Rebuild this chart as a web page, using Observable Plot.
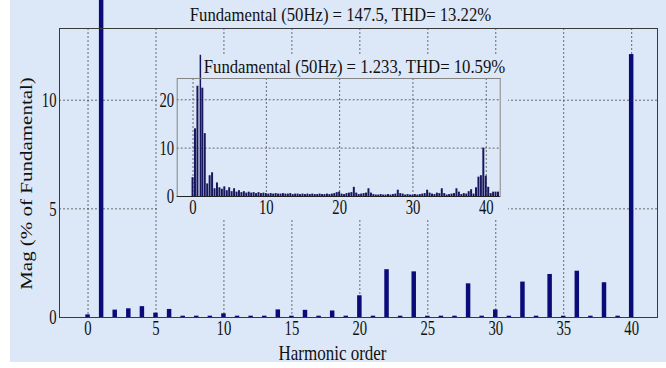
<!DOCTYPE html>
<html>
<head>
<meta charset="utf-8">
<script src="https://cdn.jsdelivr.net/npm/d3@7"></script>
<script src="https://cdn.jsdelivr.net/npm/@observablehq/plot@0.6"></script>
<style>
  html, body { margin: 0; padding: 0; background: #fff; }
  #figure { position: relative; width: 666px; height: 368px; overflow: hidden; background: #fff; }
  #panel { position: absolute; left: 10px; top: 0; width: 656px; height: 362px; background: #dce8f8; }
  #main, #inset { position: absolute; }
  #main { left: 0; top: 0; }
  #inset { left: 157px; top: 54px; }
  #figure svg { overflow: visible; }
</style>
</head>
<body>
<div id="figure">
  <div id="panel"></div>
  <div id="main"></div>
  <div id="inset"></div>
</div>
<script>
// ---- Main spectrum: magnitude of each harmonic, % of fundamental ----
const harmonicOrder = d3.range(0, 41);
const magPercent = [
  0.12, 100, 0.34, 0.40, 0.50, 0.20, 0.37, 0.06, 0.06, 0.06,
  0.17, 0.06, 0.06, 0.06, 0.35, 0.06, 0.33, 0.06, 0.30, 0.06,
  1.00, 0.06, 2.20, 0.06, 2.10, 0.06, 0.06, 0.06, 1.55, 0.06,
  0.35, 0.06, 1.63, 0.06, 1.98, 0.06, 2.13, 0.06, 1.60, 0.06,
  12.10
];
const mainXTicks = [0, 5, 10, 15, 20, 25, 30, 35, 40];
const mainYTicks = [0, 5, 10];
const mainFundamental = 147.5;
const mainTHD = 13.22;

// ---- Inset spectrum: finer bins (3 per harmonic) ----
const binsPerHarmonic = 3;
const insetMag = [
  3.9, 14.0, 22.8, 29.2, 22.4, 13.0, 2.6, 4.3, 4.9, 1.6, 2.8, 1.8, 1.5, 2.0, 1.2,
  1.8, 1.0, 1.6, 0.9, 1.2, 0.8, 1.0, 0.7, 0.9, 0.7, 0.8, 0.6, 0.8, 0.6, 0.7,
  0.6, 0.5, 0.6, 0.5, 0.6, 0.5, 0.5, 0.6, 0.5, 0.5, 0.6, 0.4, 0.5, 0.5, 0.4,
  0.5, 0.4, 0.5, 0.4, 0.5, 0.4, 0.4, 0.5, 0.4, 0.4, 0.5, 0.4, 0.5, 0.6, 0.8,
  0.9, 0.5, 0.4, 0.6, 0.7, 0.8, 1.9, 0.7, 0.4, 0.5, 0.6, 0.7, 1.6, 0.7, 0.4,
  0.3, 0.3, 0.4, 0.3, 0.3, 0.4, 0.3, 0.4, 0.5, 1.3, 0.6, 0.5, 0.3, 0.4, 0.3,
  0.3, 0.4, 0.3, 0.4, 0.5, 0.6, 1.3, 0.7, 0.5, 0.4, 0.7, 0.6, 1.6, 0.6, 0.3,
  0.4, 0.5, 0.6, 1.6, 0.9, 0.4, 0.6, 0.5, 1.0, 1.4, 0.5, 1.8, 4.0, 4.3, 10.0,
  4.2, 1.9, 0.6, 0.9, 0.9, 0.9
];
const insetXTicks = [0, 10, 20, 30, 40];
const insetYTicks = [0, 10, 20];
const insetFundamental = 1.233;
const insetTHD = 10.59;

const xLabel = "Harmonic order";
const yLabel = "Mag (% of Fundamental)";

// ---- styling ----
const FONT = "'Liberation Serif', 'Times New Roman', serif";
const BG = "#dce8f8";
const NAVY = "#0a0a78";
const INSET_NAVY = "#17175e";
const GRID = {stroke: "#4a4a4a", strokeOpacity: 1, strokeWidth: 0.8, strokeDasharray: "2,2"};

const mainBars = harmonicOrder.map((order, i) => ({order, mag: magPercent[i]}));
const insetBins = insetMag.map((mag, k) => ({order: k / binsPerHarmonic, mag}));

const mainHalf = 0.165;
const insetHalf = 0.135;

const mainTitle = `Fundamental (50Hz) = ${mainFundamental}, THD= ${mainTHD}%`;
const insetTitle = `Fundamental (50Hz) = ${insetFundamental}, THD= ${insetTHD}%`;

const main = Plot.plot({
  width: 666,
  height: 368,
  marginLeft: 59,
  marginRight: 9,
  marginTop: 28,
  marginBottom: 51,
  style: {background: "transparent", fontFamily: FONT, fontSize: "21px", color: "#111"},
  x: {domain: [-2.1, 41.9]},
  y: {domain: [0, 13.3]},
  marks: [
    Plot.gridX({ticks: mainXTicks, ...GRID}),
    Plot.gridY({ticks: mainYTicks.filter(d => d > 0), ...GRID}),
    Plot.rectY(mainBars, {x1: d => d.order - mainHalf, x2: d => d.order + mainHalf, y1: 0, y2: "mag", fill: NAVY}),
    Plot.frame({stroke: "#3a3a3a"}),
    Plot.axisX({ticks: mainXTicks, tickSize: 0, tickPadding: 3, label: null}),
    Plot.axisY({ticks: mainYTicks, tickSize: 0, tickPadding: 3, label: null}),
    Plot.text([mainTitle], {frameAnchor: "top", textAnchor: "middle", dx: -18, dy: -8, lineAnchor: "bottom", fontSize: 19}),
    Plot.text([xLabel], {frameAnchor: "bottom", textAnchor: "middle", dx: -26, dy: 42, lineAnchor: "bottom", fontSize: 21}),
    Plot.text([yLabel], {frameAnchor: "left", textAnchor: "middle", rotate: -90, dx: -28, dy: 10.5, lineAnchor: "bottom", fontSize: 21})
  ]
});

const inset = Plot.plot({
  width: 351,
  height: 165,
  marginLeft: 19.7,
  marginRight: 8.3,
  marginTop: 24,
  marginBottom: 23,
  style: {background: BG, fontFamily: FONT, fontSize: "21px", color: "#111"},
  x: {domain: [-2.16, 41.9]},
  y: {domain: [0, 24.4]},
  marks: [
    Plot.gridX({ticks: insetXTicks, ...GRID}),
    Plot.gridY({ticks: insetYTicks.filter(d => d > 0), ...GRID}),
    Plot.rectY(insetBins.filter(d => d.order !== 1), {x1: d => d.order - insetHalf, x2: d => d.order + insetHalf, y1: 0, y2: "mag", fill: INSET_NAVY}),
    Plot.ruleX(insetBins.filter(d => d.order === 1), {x: "order", y1: 0, y2: "mag", stroke: INSET_NAVY, strokeWidth: 1.5}),
    Plot.frame({stroke: "#858585"}),
    Plot.ruleY([0], {stroke: "#222"}),
    Plot.axisX({ticks: insetXTicks, tickSize: 0, tickPadding: 3, label: null}),
    Plot.axisY({ticks: insetYTicks, tickSize: 0, tickPadding: 3, label: null}),
    Plot.text([insetTitle], {frameAnchor: "top", textAnchor: "middle", dx: 15.8, dy: -6, lineAnchor: "bottom", fontSize: 19})
  ]
});

// Narrow the serif glyphs (tall, condensed lettering), scaling each text about its anchor.
function squeezeEl(t, sx, sy) {
  const tr = t.getAttribute("transform");
  if (tr) {
    t.setAttribute("transform", `${tr} scale(${sx},${sy})`);
  } else {
    const x = +t.getAttribute("x") || 0;
    const y = +t.getAttribute("y") || 0;
    t.setAttribute("transform", `translate(${x},${y}) scale(${sx},${sy}) translate(${-x},${-y})`);
  }
}
function squeeze(svg, selector, sx, sy = 1) {
  svg.querySelectorAll(selector).forEach((t) => squeezeEl(t, sx, sy));
}
const labelSqueeze = new Map([
  [mainTitle, [0.88, 1]],
  [insetTitle, [0.88, 1]],
  [xLabel, [0.81, 1]],
  [yLabel, [1, 0.8]]
]);

for (const svg of [main, inset]) {
  squeeze(svg, 'g[aria-label="x-axis tick label"] text', 0.7);
  squeeze(svg, 'g[aria-label="y-axis tick label"] text', 0.7);
  svg.querySelectorAll('g[aria-label="text"] text').forEach((t) => {
    const f = labelSqueeze.get(t.textContent);
    if (f) squeezeEl(t, f[0], f[1]);
  });
}

document.getElementById("main").appendChild(main);
document.getElementById("inset").appendChild(inset);
</script>
</body>
</html>
